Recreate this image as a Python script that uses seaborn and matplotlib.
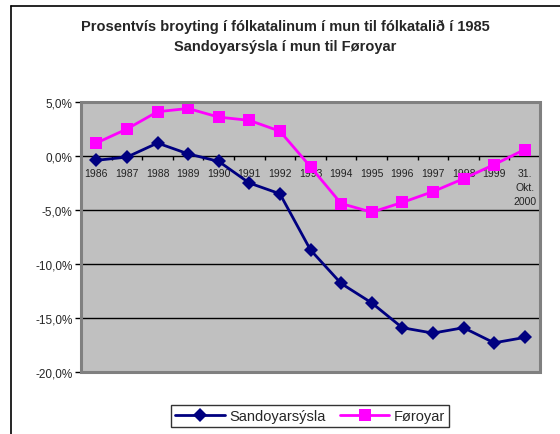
import matplotlib
matplotlib.use("Agg")
import matplotlib.pyplot as plt
import seaborn as sns
import pandas as pd
import numpy as np
from matplotlib.lines import Line2D
from matplotlib.patches import Rectangle

categories = ["1986", "1987", "1988", "1989", "1990", "1991", "1992", "1993",
              "1994", "1995", "1996", "1997", "1998", "1999", "31.\nOkt.\n2000"]
sandoy = [-0.4, -0.1, 1.2, 0.2, -0.5, -2.5, -3.5, -8.7, -11.8, -13.6, -15.9, -16.4, -15.9, -17.3, -16.8]
foroyar = [1.2, 2.5, 4.1, 4.4, 3.6, 3.3, 2.3, -1.0, -4.4, -5.2, -4.3, -3.3, -2.1, -0.8, 0.6]
series_names = ["Sandoyarsýsla", "Føroyar"]
yticks = [-20, -15, -10, -5, 0, 5]

df = pd.DataFrame({
    "pos": list(range(len(categories))) * 2,
    "value": sandoy + foroyar,
    "series": [series_names[0]] * len(categories) + [series_names[1]] * len(categories),
})

sns.set_style("white")
plt.rcParams["font.family"] = ["Liberation Sans", "DejaVu Sans"]

fig = plt.figure(figsize=(5.6, 4.35), dpi=100)
ax = fig.add_axes([81 / 560, 1 - 373 / 435, (540 - 81) / 560, (373 - 103) / 435])
ax.set_facecolor("#C0C0C0")

palette = {series_names[0]: "#000080", series_names[1]: "#FF00FF"}
markers = {series_names[0]: "D", series_names[1]: "s"}
sns.lineplot(data=df, x="pos", y="value", hue="series", style="series",
             markers=markers, dashes=False, palette=palette, ax=ax,
             linewidth=2.0, markersize=7, markeredgewidth=0, legend=False)
for line in ax.lines:
    if line.get_marker() == "s":
        line.set_markersize(8.5)
    else:
        line.set_markersize(7)

ax.set_xlim(-0.5, len(categories) - 0.5)
ax.set_ylim(-20, 5)
ax.set_xlabel("")
ax.set_ylabel("")

for v in [5, -5, -10, -15]:
    ax.axhline(v, color="black", lw=1.0, zorder=1)

ax.set_yticks(yticks)
ax.set_yticklabels([f"{v:.1f}".replace(".", ",") + "%" for v in yticks], fontsize=8.5)
ax.tick_params(axis="y", direction="out", length=4, width=1, color="black", pad=2, left=True)

for s in ["top", "right", "left"]:
    ax.spines[s].set_visible(False)
ax.spines["bottom"].set_position(("data", 0))
ax.spines["bottom"].set_color("black")
ax.spines["bottom"].set_linewidth(1.0)
ax.spines["bottom"].set_zorder(1.5)
ax.set_xticks(range(len(categories)))
ax.set_xticklabels(categories, fontsize=7.5, va="top", linespacing=1.45)
ax.tick_params(axis="x", which="major", length=0, pad=9, bottom=True)
ax.set_xticks(np.arange(-0.5, len(categories), 1.0), minor=True)
ax.tick_params(axis="x", which="minor", direction="out", length=3, width=1, color="black", bottom=True)
for lab in ax.get_xticklabels():
    lab.set_color("#222222")

frame = Rectangle((0, 0), 1, 1, transform=ax.transAxes, fill=False,
                  edgecolor="#808080", linewidth=2.2, zorder=5, clip_on=False)
ax.add_patch(frame)

fig.add_artist(Line2D([11 / 560, 1], [1 - 7 / 435, 1 - 7 / 435], color="black", lw=1.2))
fig.add_artist(Line2D([11 / 560, 11 / 560], [0, 1 - 7 / 435], color="black", lw=1.2))

fig.text(285 / 560, 1 - 27 / 435, "Prosentvís broyting í fólkatalinum í mun til fólkatalið í 1985",
         ha="center", va="center", fontsize=10.5, fontweight="bold")
fig.text(285 / 560, 1 - 47 / 435, "Sandoyarsýsla í mun til Føroyar",
         ha="center", va="center", fontsize=10.5, fontweight="bold")

handles = [Line2D([], [], color=palette[n], marker=markers[n], lw=2.0,
                  markersize=7 if markers[n] == "D" else 8.5, markeredgewidth=0)
           for n in series_names]
leg = fig.legend(handles, series_names, loc="center", bbox_to_anchor=(310 / 560, 1 - 417 / 435),
                 ncol=2, fontsize=10.5, frameon=True, fancybox=False, handlelength=3.4,
                 columnspacing=1.0, handletextpad=0.3, borderpad=0.25, borderaxespad=0)
leg.get_frame().set_edgecolor("black")
leg.get_frame().set_linewidth(1.0)

fig.savefig("out.png", dpi=100)
